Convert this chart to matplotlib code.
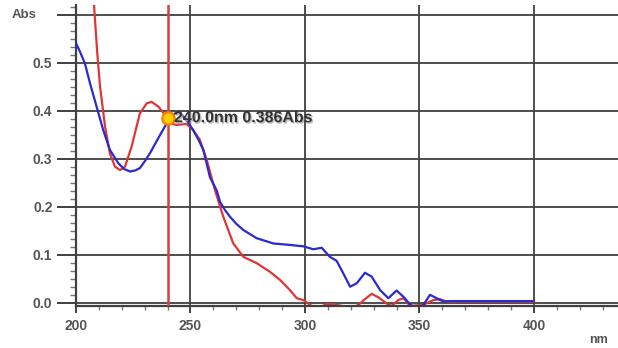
import matplotlib
matplotlib.use("Agg")
import matplotlib.pyplot as plt
from matplotlib.ticker import MultipleLocator, AutoMinorLocator
import matplotlib.patheffects as pe

# Blue spectrum (wavelength nm, absorbance)
blue_nm = [200, 201.7, 203.9, 206.1, 209, 211.9, 214.8, 218.5, 221, 223.6, 225.8, 227.9, 230, 232.3,
           234.5, 236.7, 239.6, 241.5, 243.2, 245.4, 248.3, 251.2, 253.5, 255.6, 258.5, 261.4, 262.9,
           265, 267.2, 270, 273.1, 278.9, 286.2, 293.4, 299.3, 303.6, 307.3, 310.9, 313.8, 316.7,
           319.7, 322.6, 326.2, 329.1, 332.8, 336.4, 340, 343, 345, 347.3, 351, 354.6, 357.5, 360.4,
           363.3, 372, 400]
blue_abs = [0.541, 0.524, 0.499, 0.458, 0.409, 0.36, 0.319, 0.291, 0.279, 0.274, 0.276, 0.281, 0.295,
            0.312, 0.331, 0.35, 0.374, 0.388, 0.395, 0.396, 0.381, 0.36, 0.34, 0.319, 0.262, 0.235,
            0.211, 0.194, 0.18, 0.165, 0.152, 0.135, 0.124, 0.121, 0.118, 0.112, 0.115, 0.096, 0.088,
            0.062, 0.034, 0.041, 0.063, 0.055, 0.027, 0.01, 0.026, 0.013, 0.002, -0.009, -0.009,
            0.017, 0.01, 0.003, 0.004, 0.004, 0.004]

# Red spectrum
red_nm = [207.6, 208.3, 209.3, 210.5, 212.7, 214.8, 217, 219.2, 221.4, 224.3, 227.9, 230.9, 233, 236,
          238.9, 241, 244, 248.3, 251.2, 254.1, 257.1, 260.7, 264.3, 268.7, 273.1, 278.9, 284.7,
          289.1, 293.4, 296.4, 299.3, 302.9, 306.6, 309.5, 313.1, 316, 319.7, 323.3, 326.2, 329.1,
          332, 335.7, 337.9, 340.7, 343, 345.9, 351.6, 356, 359, 361.9, 400]
red_abs = [0.64, 0.59, 0.52, 0.451, 0.367, 0.312, 0.284, 0.277, 0.284, 0.326, 0.395, 0.416, 0.419,
           0.409, 0.392, 0.374, 0.371, 0.373, 0.36, 0.34, 0.298, 0.235, 0.18, 0.124, 0.096, 0.083,
           0.065, 0.048, 0.027, 0.01, 0.006, -0.006, -0.009, -0.002, -0.003, -0.006, -0.011, -0.004,
           0.008, 0.019, 0.012, -0.001, -0.006, 0.006, 0.01, -0.006, -0.004, 0.006, 0.008, 0.003,
           0.003]

cursor_nm = 240.0
cursor_abs = 0.386
x_major = [200, 250, 300, 350, 400]
y_major = [0.0, 0.1, 0.2, 0.3, 0.4, 0.5, 0.6]
y_labels = ["0.0", "0.1", "0.2", "0.3", "0.4", "0.5", ""]

W, H = 618, 348
fig = plt.figure(figsize=(W / 100, H / 100), dpi=100)
ax = fig.add_axes([76 / W, (H - 306) / H, 1 - 76 / W, (306 - 5) / H])
ax.set_xlim(200, 436.7)
ax.set_ylim(-0.00625, 0.6208)

gcol = "#404040"
for s in ["top", "right"]:
    ax.spines[s].set_visible(False)
for s in ["left", "bottom"]:
    ax.spines[s].set_color(gcol)
    ax.spines[s].set_linewidth(1.6)

ax.set_xticks(x_major)
ax.set_yticks(y_major)
ax.set_yticklabels(y_labels)
ax.xaxis.set_minor_locator(MultipleLocator(10))
ax.yaxis.set_minor_locator(AutoMinorLocator(6))
ax.tick_params(axis="y", which="major", length=14, width=1.4, color=gcol, pad=3,
               labelsize=10, labelcolor="#555555")
ax.tick_params(axis="y", which="minor", length=4, width=1.0, color="#777777")
ax.tick_params(axis="x", which="major", length=5, width=1.4, color=gcol, pad=4,
               labelsize=10, labelcolor="#555555")
ax.tick_params(axis="x", which="minor", length=3, width=1.0, color="#777777")
for lab in ax.get_xticklabels() + ax.get_yticklabels():
    lab.set_fontweight("bold")
    lab.set_family("Liberation Sans")

ax.grid(True, which="major", color=gcol, linewidth=1.3)
ax.set_axisbelow(True)

ax.plot(blue_nm, blue_abs, color="#2a2ad0", linewidth=1.6, zorder=3)
ax.plot(red_nm, red_abs, color="#e03535", linewidth=1.6, zorder=2)
ax.axvline(cursor_nm, color="#d84040", linewidth=1.8, zorder=4, ymin=0, ymax=1)
ax.plot([cursor_nm], [cursor_abs], marker="o", markersize=9, markerfacecolor="#ffcc00",
        markeredgecolor="#f08000", markeredgewidth=1.5, zorder=5)
ax.text(cursor_nm + 2.8, cursor_abs, f"{cursor_nm:.1f}nm {cursor_abs:.3f}Abs",
        fontsize=11.5, fontweight="bold", color="#333333", va="center", ha="left",
        family="Liberation Sans", zorder=6,
        path_effects=[pe.withSimplePatchShadow(offset=(1, -1), shadow_rgbFace="#aaaaaa", alpha=0.8)])

fig.text(24 / W, 1 - 15 / H, "Abs", fontsize=9.5, fontweight="bold", color="#555555",
         ha="center", va="center", family="Liberation Sans")
fig.text(599 / W, 1 - 340 / H, "nm", fontsize=9, fontweight="bold", color="#555555",
         ha="center", va="center", family="Liberation Sans")

fig.savefig("out.png", dpi=100)
